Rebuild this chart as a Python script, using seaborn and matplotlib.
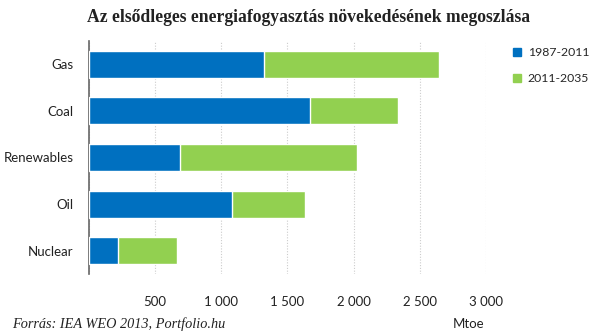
import matplotlib
matplotlib.use("Agg")
import matplotlib.pyplot as plt
import seaborn as sns
import pandas as pd
from matplotlib.patches import Patch

categories = ["Gas", "Coal", "Renewables", "Oil", "Nuclear"]
growth_1987_2011 = [1320, 1672, 689, 1083, 217]
growth_2011_2035 = [1326, 661, 1334, 553, 445]
series_names = ["1987-2011", "2011-2035"]
tick_values = [0, 500, 1000, 1500, 2000, 2500, 3000]
tick_labels = ["", "500", "1 000", "1 500", "2 000", "2 500", "3 000"]

blue = "#0070C0"
green = "#92D050"

df = pd.DataFrame({
    "cat": categories,
    "a": growth_1987_2011,
    "total": [a + b for a, b in zip(growth_1987_2011, growth_2011_2035)],
})

sns.set_style("white")
plt.rcParams["font.family"] = ["Lato", "DejaVu Sans"]

fig = plt.figure(figsize=(6.0, 3.33), dpi=100)
ax = fig.add_axes([89/600, 1 - 274/333, (486 - 89)/600, (274 - 41)/333])

sns.barplot(data=df, y="cat", x="total", color=green, width=0.58, ax=ax,
            saturation=1, zorder=2)
sns.barplot(data=df, y="cat", x="a", color=blue, width=0.58, ax=ax,
            saturation=1, zorder=3)

ax.set_xlim(0, 3000)
ax.set_ylim(4.5, -0.5)
ax.set_xticks(tick_values)
ax.set_xticklabels(tick_labels, fontsize=9.5, color="#222222")
ax.tick_params(axis="x", length=0, pad=16)
ax.tick_params(axis="y", length=0, pad=11, labelsize=9.5, labelcolor="#222222")
ax.set_xlabel("")
ax.set_ylabel("")
ax.grid(axis="x", color="#cccccc", linestyle=(0, (1, 1.5)), linewidth=0.8, zorder=0)
ax.set_axisbelow(True)
for s in ["top", "right", "bottom"]:
    ax.spines[s].set_visible(False)
ax.spines["left"].set_color("#666666")
ax.spines["left"].set_linewidth(1.2)

handles = [Patch(color=blue, label=series_names[0]),
           Patch(color=green, label=series_names[1])]
leg = fig.legend(handles=handles, loc="upper left", bbox_to_anchor=(502/600, 1 - 36/333),
                 frameon=False, fontsize=8.8, handlelength=0.65, handleheight=0.65,
                 handletextpad=0.55, labelspacing=1.25)

fig.text(309/600, 1 - 17/333, "Az elsődleges energiafogyasztás növekedésének megoszlása",
         ha="center", va="center", fontsize=12.7, fontweight="bold",
         family=["Liberation Serif", "DejaVu Serif"], color="#222222")
fig.text(469/600, 1 - 324/333, "Mtoe", ha="center", va="center", fontsize=9.5, color="#222222")
fig.text(12/600, 1 - 324/333, "Forrás: IEA WEO 2013, Portfolio.hu", ha="left", va="center",
         fontsize=10.3, style="italic", family=["Liberation Serif", "DejaVu Serif"], color="#222222")

fig.savefig("out.png", dpi=100)
